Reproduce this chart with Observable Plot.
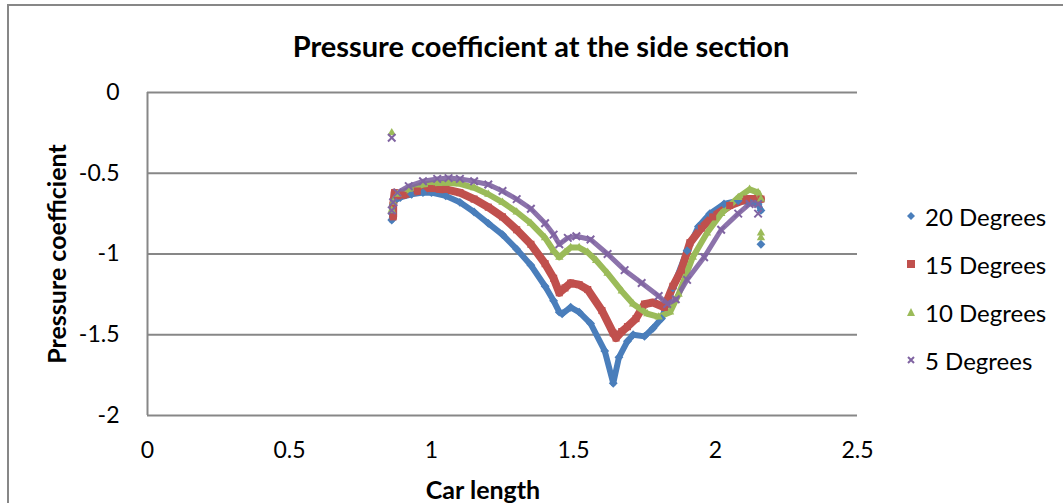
<!DOCTYPE html>
<html><head><meta charset="utf-8">
<script src="https://cdn.jsdelivr.net/npm/d3@7"></script>
<script src="https://cdn.jsdelivr.net/npm/@observablehq/plot@0.6"></script>
<style>
html,body{margin:0;padding:0;background:#fff;overflow:hidden;}
#wrap{position:relative;width:1063px;height:503px;overflow:hidden;font-family:Lato,"Open Sans",sans-serif;color:#000;}
#frame{position:absolute;left:7px;top:4px;width:1200px;height:800px;border:2px solid #878787;box-sizing:border-box;}
#chart{position:absolute;left:0;top:0;}
.lbl{position:absolute;white-space:nowrap;font-weight:bold;}
#title{left:541px;top:45px;font-size:29px;transform:translate(-50%,-50%);}
#ylab{left:56px;top:254px;font-size:25px;transform:translate(-50%,-50%) rotate(-90deg);}
#xlab{left:483px;top:489px;font-size:25px;transform:translate(-50%,-50%);}
#legend{position:absolute;left:906px;top:201px;font-size:24px;}
.item{position:absolute;left:0;height:30px;display:flex;align-items:center;white-space:nowrap;}
.item svg{margin-right:9px;}
</style></head>
<body><div id="wrap">
<div id="frame"></div>
<div id="chart"></div>
<div id="title" class="lbl">Pressure coefficient at the side section</div>
<div id="ylab" class="lbl">Pressure coefficient</div>
<div id="xlab" class="lbl">Car length</div>
<div id="legend"></div>
</div>
<script>
// ---- data ----
const seriesNames = ["20 Degrees", "15 Degrees", "10 Degrees", "5 Degrees"];
const seriesColors = ["#4A7EBB", "#C0504D", "#9BBB59", "#8064A2"];
const seriesSymbols = ["diamond2", "square2", "triangle2", "times"];

const deg20X = [0.86,0.862,0.865,0.87,0.89,0.93,0.97,1.0,1.05,1.1,1.15,1.2,1.25,1.3,1.35,1.4,1.43,1.45,1.46,1.49,1.52,1.56,1.61,1.64,1.66,1.69,1.71,1.75,1.78,1.81,1.85,1.9,1.94,1.98,2.03,2.08,2.12,2.15,2.16];
const deg20Y = [-0.79,-0.75,-0.70,-0.67,-0.65,-0.63,-0.62,-0.62,-0.64,-0.68,-0.74,-0.81,-0.88,-0.97,-1.07,-1.20,-1.29,-1.36,-1.37,-1.33,-1.36,-1.43,-1.60,-1.80,-1.64,-1.54,-1.50,-1.51,-1.46,-1.40,-1.21,-0.98,-0.83,-0.75,-0.69,-0.67,-0.68,-0.69,-0.73];
const deg20IsoX = [2.16];
const deg20IsoY = [-0.94];

const deg15X = [0.865,0.865,0.87,0.88,0.9,0.95,1.0,1.05,1.1,1.15,1.2,1.25,1.3,1.35,1.4,1.43,1.45,1.47,1.49,1.52,1.55,1.6,1.64,1.65,1.67,1.69,1.72,1.75,1.78,1.82,1.85,1.88,1.91,1.95,1.99,2.05,2.11,2.16];
const deg15Y = [-0.77,-0.70,-0.62,-0.64,-0.635,-0.61,-0.595,-0.60,-0.62,-0.66,-0.71,-0.77,-0.85,-0.94,-1.06,-1.15,-1.24,-1.21,-1.18,-1.19,-1.22,-1.35,-1.49,-1.52,-1.48,-1.45,-1.40,-1.31,-1.30,-1.33,-1.20,-1.10,-0.93,-0.84,-0.77,-0.70,-0.66,-0.66];

const deg10X = [0.86,0.865,0.88,0.92,0.97,1.02,1.06,1.1,1.15,1.2,1.25,1.3,1.35,1.4,1.43,1.45,1.47,1.49,1.52,1.55,1.58,1.62,1.67,1.71,1.76,1.8,1.84,1.87,1.92,1.97,2.02,2.08,2.12,2.15,2.16];
const deg10Y = [-0.73,-0.68,-0.63,-0.60,-0.57,-0.56,-0.56,-0.565,-0.59,-0.63,-0.68,-0.74,-0.81,-0.90,-0.98,-1.02,-0.99,-0.96,-0.96,-0.99,-1.04,-1.12,-1.23,-1.31,-1.37,-1.39,-1.36,-1.25,-1.02,-0.87,-0.75,-0.65,-0.60,-0.62,-0.66];
const deg10IsoX = [0.86,2.16,2.16];
const deg10IsoY = [-0.25,-0.87,-0.90];

const deg5X = [0.86,0.865,0.88,0.92,0.97,1.02,1.06,1.1,1.15,1.2,1.25,1.3,1.35,1.4,1.43,1.45,1.48,1.51,1.56,1.62,1.68,1.74,1.8,1.83,1.86,1.9,1.96,2.02,2.08,2.12,2.15];
const deg5Y = [-0.73,-0.68,-0.62,-0.58,-0.55,-0.535,-0.53,-0.535,-0.55,-0.57,-0.61,-0.66,-0.72,-0.81,-0.88,-0.94,-0.90,-0.89,-0.91,-1.00,-1.10,-1.18,-1.26,-1.31,-1.28,-1.16,-1.02,-0.85,-0.75,-0.69,-0.69];
const deg5IsoX = [0.86,2.15];
const deg5IsoY = [-0.28,-0.75];

const xTicks = [0, 0.5, 1, 1.5, 2, 2.5];
const yTicks = [0, -0.5, -1, -1.5, -2];

// ---- build tables ----
function rows(xs, ys, i) { return xs.map((x, k) => ({x, y: ys[k], s: i})); }
const curves = [
  rows(deg20X, deg20Y, 0), rows(deg15X, deg15Y, 1), rows(deg10X, deg10Y, 2), rows(deg5X, deg5Y, 3)
];
const isolated = [
  rows(deg20IsoX, deg20IsoY, 0), [], rows(deg10IsoX, deg10IsoY, 2), rows(deg5IsoX, deg5IsoY, 3)
];

const marks = [
  Plot.ruleY(yTicks, {stroke: "#878787", strokeWidth: 2}),
  Plot.ruleX([0], {y1: -2, y2: 0, stroke: "#878787", strokeWidth: 2}),
  Plot.axisY({ticks: yTicks, tickSize: 0, tickPadding: 28, tickFormat: d => String(d), label: null, fontSize: 23}),
  Plot.axisX({ticks: xTicks, tickSize: 0, tickPadding: 26, tickFormat: d => String(d), label: null, fontSize: 23})
];
const lineW = [6, 8, 6, 5];
curves.forEach((data, i) => {
  marks.push(Plot.line(data, {x: "x", y: "y", stroke: seriesColors[i], strokeWidth: lineW[i], curve: "linear", strokeOpacity: i === 3 ? 0.9 : 1}));
});
curves.forEach((data, i) => {
  const all = data.concat(isolated[i]);
  if (i === 3) {
    marks.push(Plot.dot(all, {x: "x", y: "y", symbol: () => "times", r: 3.5, stroke: seriesColors[i], strokeWidth: 2}));
  } else {
    marks.push(Plot.dot(all, {x: "x", y: "y", symbol: () => seriesSymbols[i], r: i === 1 ? 4.5 : 4, fill: seriesColors[i], stroke: "none"}));
  }
});

const chart = Plot.plot({
  width: 1063, height: 503,
  marginLeft: 147, marginRight: 206, marginTop: 92, marginBottom: 88,
  x: {domain: [0, 2.5]},
  y: {domain: [-2, 0]},
  style: {fontFamily: "Lato, 'Open Sans', sans-serif", fontSize: "23px", color: "#000", background: "transparent"},
  marks
});
document.getElementById("chart").appendChild(chart);

// ---- legend ----
const legend = document.getElementById("legend");
const rowsY = [0, 48, 96, 144];
seriesNames.forEach((name, i) => {
  const item = document.createElement("div");
  item.className = "item";
  item.style.top = rowsY[i] + "px";
  const c = seriesColors[i];
  let shape;
  if (i === 0) shape = `<path d="M5,1 L9,5 L5,9 L1,5 Z" fill="${c}"/>`;
  else if (i === 1) shape = `<rect x="1" y="1" width="8" height="8" fill="${c}"/>`;
  else if (i === 2) shape = `<path d="M5,1 L9,9 L1,9 Z" fill="${c}"/>`;
  else shape = `<path d="M2,2 L8,8 M8,2 L2,8" stroke="${c}" stroke-width="2"/>`;
  item.innerHTML = `<svg width="10" height="10">${shape}</svg><span>${name}</span>`;
  legend.appendChild(item);
});
</script>
</body></html>
